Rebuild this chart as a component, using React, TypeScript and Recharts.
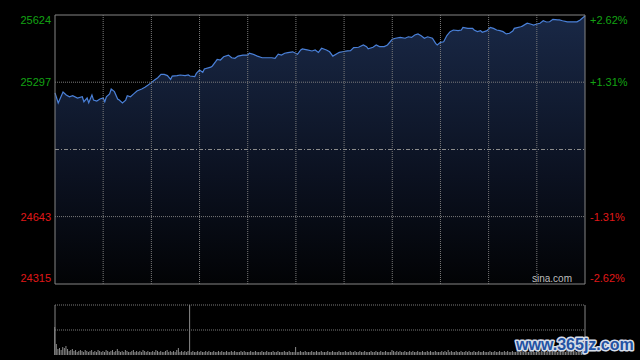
import React from 'react';
import {
  AreaChart,
  Area,
  BarChart,
  Bar,
  XAxis,
  YAxis,
  ReferenceLine,
  ReferenceArea,
} from 'recharts';

// previous close, centre of the price axis
const prevClose = 24969.5;
const priceTicks = [24315, 24643, 25297, 25624];
const timeTicks = [0, 30, 60, 90, 120, 150, 180, 210, 240, 270, 300, 330];

// minutes since open (sampled) and index level
const minutes = [
  0, 2, 5, 7, 9, 11, 14, 17, 18, 20, 21, 23, 24, 26, 28, 30, 31, 32, 34, 35, 37, 39, 40, 42, 44, 45, 47, 49,
  51, 54, 56, 58, 60, 62, 64, 66, 68, 70, 72, 73, 76, 78, 81, 83, 84, 87, 88, 90, 92, 93, 97, 98, 100, 101,
  103, 105, 108, 110, 112, 114, 117, 120, 121, 123, 126, 129, 132, 135, 137, 139, 141, 143, 145, 148, 151,
  153, 154, 157, 160, 162, 164, 166, 169, 171, 173, 176, 177, 179, 182, 184, 186, 189, 192, 194, 195, 198,
  200, 202, 205, 207, 210, 212, 215, 218, 220, 222, 224, 226, 228, 230, 232, 235, 237, 238, 240, 242, 244,
  246, 248, 251, 253, 254, 257, 260, 261, 263, 265, 266, 269, 271, 273, 275, 277, 279, 281, 283, 285, 286,
  290, 291, 294, 296, 298, 300, 302, 304, 306, 308, 310, 313, 314, 316, 319, 321, 322, 325, 327, 329, 330,
];
const prices = [
  25245, 25196, 25249, 25235, 25226, 25231, 25220, 25226, 25202, 25220, 25197, 25235, 25210, 25205, 25215,
  25220, 25202, 25226, 25240, 25264, 25251, 25215, 25210, 25196, 25210, 25231, 25226, 25240, 25254, 25264,
  25272, 25283, 25295, 25308, 25319, 25335, 25335, 25329, 25311, 25327, 25329, 25332, 25329, 25332, 25327,
  25324, 25340, 25356, 25345, 25361, 25370, 25376, 25397, 25408, 25405, 25421, 25429, 25416, 25413, 25424,
  25429, 25429, 25438, 25434, 25424, 25416, 25416, 25416, 25413, 25433, 25429, 25438, 25441, 25445, 25433,
  25454, 25459, 25454, 25449, 25454, 25442, 25462, 25454, 25445, 25424, 25438, 25442, 25445, 25449, 25450,
  25465, 25467, 25478, 25470, 25459, 25467, 25478, 25470, 25470, 25478, 25506, 25511, 25515, 25511, 25518,
  25515, 25527, 25532, 25523, 25511, 25518, 25511, 25486, 25478, 25491, 25494, 25524, 25543, 25551, 25548,
  25551, 25564, 25559, 25559, 25551, 25543, 25548, 25540, 25548, 25564, 25559, 25551, 25548, 25543, 25532,
  25535, 25546, 25559, 25567, 25570, 25584, 25580, 25575, 25580, 25584, 25596, 25590, 25591, 25603, 25600,
  25600, 25596, 25591, 25591, 25591, 25591, 25600, 25613, 25619,
];

// volume per minute, 0..330
const volumes = [
  28, 11, 6, 7, 5, 8, 7, 9, 6, 4, 5, 6, 4, 5, 3, 4, 5, 4, 3, 5, 4, 3, 4, 5, 3, 4, 3, 5, 4, 3,
  4, 3, 5, 4, 3, 4, 5, 3, 4, 6, 4, 3, 4, 3, 5, 4, 3, 3, 4, 5, 3, 4, 3, 4, 3, 5, 4, 3, 4, 3,
  3, 4, 3, 5, 4, 3, 4, 3, 3, 4, 5, 3, 4, 3, 4, 3, 5, 7, 3, 4, 3, 4, 3, 4, 50, 3, 4, 3, 3, 4,
  3, 4, 3, 3, 4, 3, 4, 3, 3, 4, 3, 3, 4, 3, 4, 3, 3, 4, 3, 3, 4, 3, 4, 3, 3, 3, 4, 3, 4, 3,
  3, 3, 4, 3, 3, 4, 3, 3, 3, 4, 3, 3, 4, 3, 3, 3, 4, 3, 3, 4, 3, 3, 3, 4, 3, 3, 4, 3, 3, 3,
  8, 3, 3, 4, 3, 3, 4, 3, 3, 3, 4, 3, 3, 4, 3, 3, 4, 3, 3, 3, 4, 3, 3, 4, 3, 3, 3, 4, 3, 3,
  3, 4, 3, 3, 4, 3, 3, 4, 3, 3, 4, 3, 3, 4, 3, 3, 3, 4, 3, 3, 4, 3, 3, 4, 3, 3, 4, 3, 3, 3,
  5, 4, 3, 4, 3, 4, 3, 3, 4, 3, 3, 4, 3, 4, 3, 3, 4, 3, 3, 4, 3, 3, 4, 3, 4, 3, 3, 4, 3, 3,
  3, 4, 3, 4, 3, 5, 3, 4, 3, 3, 4, 3, 3, 4, 3, 3, 4, 3, 4, 3, 3, 4, 3, 3, 4, 3, 3, 4, 3, 3,
  3, 4, 3, 3, 4, 3, 3, 4, 3, 3, 4, 3, 4, 3, 3, 4, 3, 3, 4, 3, 3, 4, 3, 4, 3, 3, 4, 3, 4, 3,
  3, 4, 3, 4, 3, 4, 3, 4, 4, 3, 4, 3, 4, 3, 4, 4, 3, 4, 3, 5, 4, 3, 4, 5, 4, 3, 5, 4, 3, 5, 6,
];

const UP = '#13a313';
const DOWN = '#e01818';
const GRID = '#7a7a7a';
const FONT = '"Liberation Sans", Arial, sans-serif';

const priceData = minutes.map((t, i) => ({ t, price: prices[i] }));
const volumeData = volumes.map((vol, t) => ({ t, vol }));

function pct(v: number) {
  const p = ((v - prevClose) / prevClose) * 100;
  return (p > 0 ? '+' : '') + p.toFixed(2) + '%';
}

function PriceTick(props: any) {
  const { x, y, payload, side } = props;
  const v = payload.value;
  let dy = 0;
  if (v === priceTicks[priceTicks.length - 1]) dy = 5;
  if (v === priceTicks[0]) dy = -6;
  return (
    <text
      x={x}
      y={y + dy}
      dy="0.36em"
      textAnchor={side === 'left' ? 'end' : 'start'}
      fill={v > prevClose ? UP : DOWN}
      fontSize={11}
      fontFamily={FONT}
    >
      {side === 'left' ? String(v) : pct(v)}
    </text>
  );
}

export default function App() {
  return (
    <div style={{ position: 'absolute', left: 0, top: 0, width: 640, height: 360, background: '#000' }}>
      <div style={{ position: 'absolute', left: 0, top: 0 }}>
        <AreaChart width={640} height={300} data={priceData} margin={{ top: 15, right: 0, bottom: 16, left: 0 }}>
          <defs>
            <linearGradient id="priceFill" x1="0" y1="0" x2="0" y2="1">
              <stop offset="0" stopColor="#192846" />
              <stop offset="0.6" stopColor="#0b1120" />
              <stop offset="1" stopColor="#020305" />
            </linearGradient>
          </defs>
          <XAxis type="number" dataKey="t" domain={[0, 330]} ticks={timeTicks} hide />
          <YAxis
            yAxisId="l"
            domain={[24315, 25624]}
            ticks={priceTicks}
            interval={0}
            width={55}
            axisLine={false}
            tickLine={false}
            tickSize={0}
            tickMargin={4}
            tick={(p: any) => <PriceTick {...p} side="left" />}
          />
          <YAxis
            yAxisId="r"
            orientation="right"
            type="number"
            domain={[24315, 25624]}
            allowDataOverflow
            ticks={priceTicks}
            interval={0}
            width={55}
            axisLine={false}
            tickLine={false}
            tickSize={0}
            tickMargin={5}
            tick={(p: any) => <PriceTick {...p} side="right" />}
          />
          <Area
            yAxisId="l"
            type="linear"
            dataKey="price"
            stroke="#4a80d8"
            strokeWidth={1.2}
            fill="url(#priceFill)"
            fillOpacity={1}
            baseValue={24315}
            dot={false}
            activeDot={false}
            isAnimationActive={false}
          />
          {timeTicks.slice(1, -1).map((t) => (
            <ReferenceLine key={'v' + t} yAxisId="l" x={t} stroke={GRID} strokeDasharray="1 1" />
          ))}
          {priceTicks.slice(1, -1).map((v) => (
            <ReferenceLine key={'h' + v} yAxisId="l" y={v} stroke={GRID} strokeDasharray="1 1" />
          ))}
          <ReferenceLine yAxisId="l" y={prevClose} stroke="#8c8c8c" strokeDasharray="4 2 1 2" />
          <ReferenceArea yAxisId="l" x1={0} x2={330} y1={24315} y2={25624} fill="none" stroke="#858585" strokeWidth={1} />
        </AreaChart>
      </div>
      <div style={{ position: 'absolute', left: 0, top: 300 }}>
        <BarChart width={640} height={60} data={volumeData} margin={{ top: 5, right: 55, bottom: 5, left: 55 }}>
          <XAxis type="number" dataKey="t" domain={[0, 330]} hide />
          <YAxis domain={[0, 50]} hide />
          <ReferenceLine y={50} stroke={GRID} strokeDasharray="1 1" />
          <ReferenceLine y={25} stroke={GRID} strokeDasharray="1 1" />
          <ReferenceLine x={0} stroke="#858585" />
          <ReferenceLine x={330} stroke="#858585" />
          <Bar dataKey="vol" fill="#8a8a8a" barSize={1} isAnimationActive={false} />
        </BarChart>
      </div>
      <div
        style={{
          position: 'absolute',
          left: 532,
          top: 273,
          fontFamily: FONT,
          fontSize: 10,
          color: '#bdbdbd',
          lineHeight: '12px',
        }}
      >
        sina.com
      </div>
      <svg width={640} height={360} style={{ position: 'absolute', left: 0, top: 0, pointerEvents: 'none' }}>
        <text
          x={516}
          y={350}
          fontFamily={FONT}
          fontWeight="bold"
          fontSize={16}
          fill="#2352a3"
          stroke="#d6dde8"
          strokeWidth={3}
          paintOrder="stroke"
          strokeLinejoin="round"
        >
          www.365jz.com
        </text>
      </svg>
    </div>
  );
}
